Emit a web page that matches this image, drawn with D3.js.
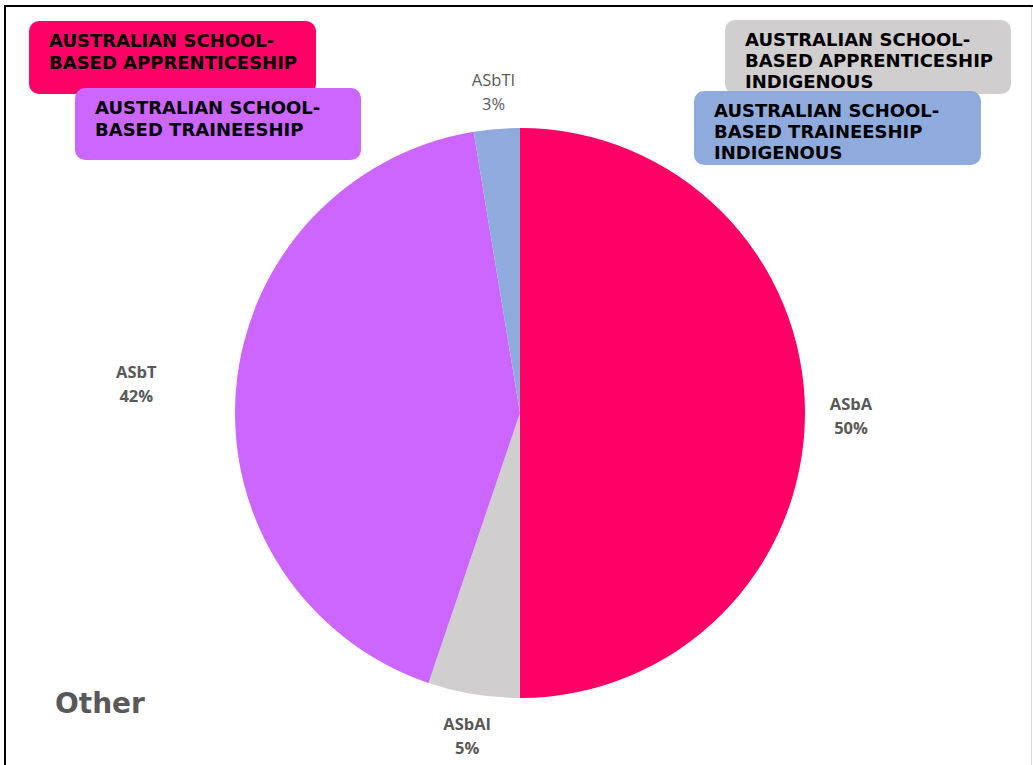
<!DOCTYPE html>
<html>
<head>
<meta charset="utf-8">
<script src="https://cdn.jsdelivr.net/npm/d3@7"></script>
<style>
  html, body { margin: 0; padding: 0; background: #fff; }
  svg { display: block; }
</style>
</head>
<body>
<svg id="chart" width="1033" height="765"></svg>
<script>
// ---- data ----
const categories = ["ASbA", "ASbAI", "ASbT", "ASbTI"];
const values = [50.0, 5.2, 42.2, 2.6];
const pctLabels = ["50%", "5%", "42%", "3%"];
const colors = ["#FF0066", "#D0CECE", "#CC66FF", "#8FAADC"];
const legendTitles = [
  ["AUSTRALIAN SCHOOL-", "BASED APPRENTICESHIP"],
  ["AUSTRALIAN SCHOOL-", "BASED APPRENTICESHIP", "INDIGENOUS"],
  ["AUSTRALIAN SCHOOL-", "BASED TRAINEESHIP"],
  ["AUSTRALIAN SCHOOL-", "BASED TRAINEESHIP", "INDIGENOUS"]
];
const chartTitle = "Other";

// ---- drawing ----
const svg = d3.select("#chart");
const cx = 520, cy = 413, R = 285;

const pie = d3.pie().sort(null).value(d => d)(values);
const arc = d3.arc().innerRadius(0).outerRadius(R);

const g = svg.append("g").attr("transform", `translate(${cx},${cy})`);
g.selectAll("path.slice").data(pie).join("path")
  .attr("class", "slice")
  .attr("d", arc)
  .attr("fill", (d, i) => colors[i]);

// data labels
const labelRadius = [331, 325, 385, 325];
const boldLabel = [true, true, true, false];
pie.forEach((d, i) => {
  const a = (d.startAngle + d.endAngle) / 2;
  const lr = labelRadius[i];
  const x = Math.sin(a) * lr, y = -Math.cos(a) * lr;
  const t = g.append("text")
    .attr("x", x).attr("y", y)
    .attr("text-anchor", "middle")
    .attr("font-family", "Open Sans, Liberation Sans, sans-serif")
    .attr("font-size", 16.5)
    .attr("font-weight", boldLabel[i] ? 700 : 400)
    .attr("fill", "#595959");
  t.append("tspan").attr("x", x).attr("dy", "-0.2em").text(categories[i]);
  t.append("tspan").attr("x", x).attr("dy", "1.45em").text(pctLabels[i]);
});

// legend boxes (order of drawing to match overlaps)
const boxes = [
  { idx: 0, x: 29, y: 21, w: 287, h: 73 },
  { idx: 2, x: 75, y: 88, w: 286, h: 72 },
  { idx: 1, x: 725, y: 20, w: 286, h: 74 },
  { idx: 3, x: 694, y: 91, w: 287, h: 74 }
];
boxes.forEach(b => {
  svg.append("rect")
    .attr("x", b.x).attr("y", b.y).attr("width", b.w).attr("height", b.h)
    .attr("rx", 10).attr("ry", 10)
    .attr("fill", colors[b.idx]);
  const lines = legendTitles[b.idx];
  const lh = lines.length === 3 ? 21 : 22;
  const firstBase = b.y + 26;
  const t = svg.append("text")
    .attr("font-family", "DejaVu Sans, sans-serif")
    .attr("font-weight", 700)
    .attr("font-size", 18)
    .attr("fill", "#000");
  lines.forEach((ln, k) => {
    t.append("tspan").attr("x", b.x + 20).attr("y", firstBase + k * lh).text(ln);
  });
});

// title
svg.append("text")
  .attr("x", 55).attr("y", 713)
  .attr("font-family", "DejaVu Sans, sans-serif")
  .attr("font-weight", 700)
  .attr("font-size", 28)
  .attr("fill", "#595959")
  .text(chartTitle);

// frame
svg.append("line").attr("x1", 4).attr("x2", 1033).attr("y1", 6).attr("y2", 6)
  .attr("stroke", "#000").attr("stroke-width", 2);
svg.append("line").attr("x1", 5).attr("x2", 5).attr("y1", 5).attr("y2", 765)
  .attr("stroke", "#000").attr("stroke-width", 2);
svg.append("line").attr("x1", 1031.5).attr("x2", 1031.5).attr("y1", 7).attr("y2", 765)
  .attr("stroke", "#d9d9d9").attr("stroke-width", 1);
</script>
</body>
</html>
